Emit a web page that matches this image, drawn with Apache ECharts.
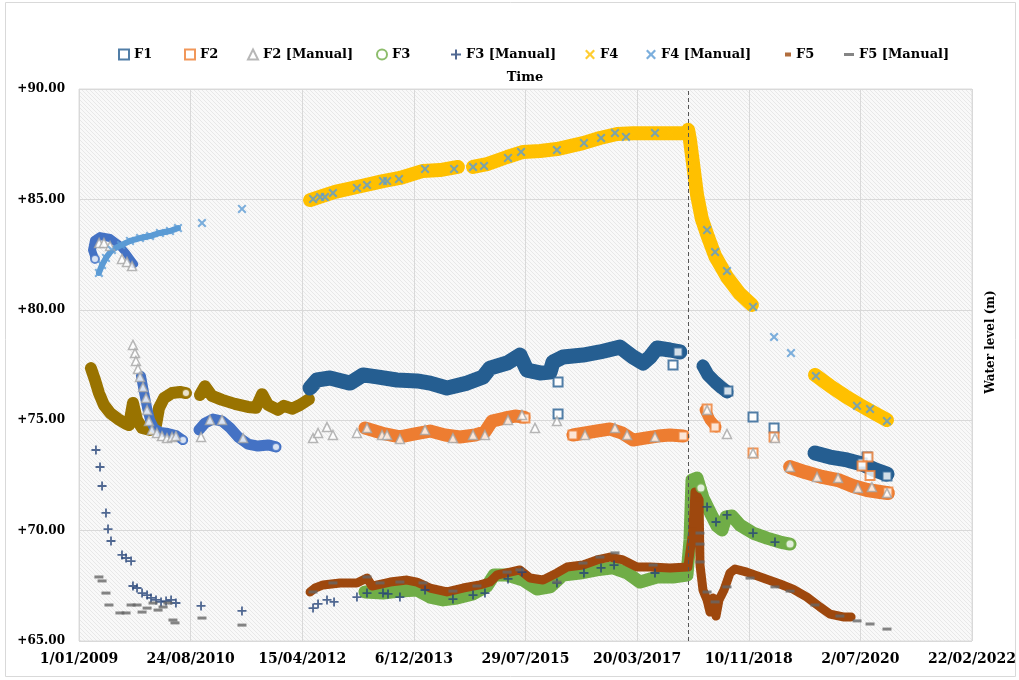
<!DOCTYPE html>
<html><head><meta charset="utf-8">
<script src="https://cdn.jsdelivr.net/npm/echarts@6.0.0/dist/echarts.min.js"></script>
<style>html,body{margin:0;padding:0;background:#fff}#c{width:1019px;height:680px}</style>
</head><body><div id="c"></div><script>
// x values: days since 1 Jan 2009 (Excel-style day offsets); y values: water level (m)
const EVENT_DAY = 3274;
const yTicks = [65, 70, 75, 80, 85, 90];

// Unlabelled logger records (not in legend)
const oliveSeg1 = [[64,77.36],[86,76.82],[107,76.23],[134,75.69],[167,75.33],[210,75.05],[253,74.83],[269,74.78],[290,75.78],[312,75.01],[339,74.65],[382,74.56],[414,74.78],[430,75.55],[457,76.0],[500,76.23],[543,76.28],[575,76.23]];
const oliveSeg2 = [[650,76.14],[677,76.54],[715,76.1],[769,75.92],[838,75.74],[908,75.6],[951,75.56],[984,76.18],[1016,75.69],[1070,75.47],[1102,75.65],[1145,75.52],[1188,75.69],[1236,75.95]];
const oliveEnds = [[575,76.23]];
const blueTop = [[86,82.3],[70,82.71],[81,83.16],[113,83.34],[167,83.25],[210,82.98],[253,82.57],[296,82.07]];
const blueSeg1 = [[333,77.0],[349,76.28],[366,75.55],[382,75.01],[403,74.65],[435,74.47],[478,74.42],[521,74.33],[559,74.1]];
const blueSeg2 = [[645,74.56],[677,74.87],[720,75.05],[769,74.96],[812,74.65],[855,74.24],[908,73.92],[962,73.83],[1016,73.88],[1059,73.79]];
const blueEnds = [[86,82.3],[559,74.1],[1059,73.79]];

// F1
const f1Seg1 = [[1242,76.46],[1279,76.82],[1349,76.91],[1457,76.68],[1527,77.05],[1602,76.96],[1709,76.82],[1817,76.78],[1887,76.68],[1978,76.46],[2086,76.68],[2172,76.96],[2209,77.36],[2301,77.59],[2370,77.95],[2408,77.27],[2478,77.14],[2532,77.18],[2548,77.64],[2602,77.86],[2709,77.95],[2800,78.09],[2908,78.31],[2978,77.86],[3032,77.59],[3069,77.86],[3107,78.27],[3177,78.18],[3230,78.09]];
const f1Seg2 = [[3354,77.46],[3381,77.05],[3419,76.73],[3456,76.46],[3483,76.28]];
const f1Seg3 = [[3956,73.51],[4037,73.33],[4128,73.2],[4209,73.02],[4279,72.75],[4343,72.56]];
const f1Squares = [[2575,76.73],[2575,75.28],[3220,78.09],[3193,77.5],[3488,76.32],[3623,75.14],[3736,74.65],[4236,73.33],[4209,73.06],[4343,72.47]];

// F2
const f2Seg1 = [[1537,74.65],[1591,74.51],[1645,74.38],[1725,74.24],[1806,74.38],[1887,74.51],[1967,74.33],[2048,74.24],[2129,74.33],[2182,74.47],[2220,74.96],[2291,75.1],[2344,75.19],[2392,75.14]];
const f2Seg2 = [[2655,74.33],[2720,74.42],[2784,74.51],[2854,74.6],[2919,74.42],[2978,74.1],[3042,74.19],[3112,74.28],[3177,74.33],[3247,74.28]];
const f2Seg3 = [[3365,75.46],[3392,75.01],[3424,74.69]];
const f2Seg4 = [[3822,72.88],[3902,72.65],[3994,72.43],[4080,72.29],[4160,72.02],[4236,71.84],[4306,71.75],[4348,71.7]];
const f2Squares = [[2397,75.1],[2655,74.33],[3247,74.28],[3376,75.51],[3419,74.69],[3623,73.51],[3736,74.24],[4241,73.33],[4209,72.93],[4252,72.5],[4348,71.75]];
const f2Manual = [[108,83.03],[134,83.03],[167,82.89],[231,82.3],[258,82.17],[285,81.98],[290,78.41],[301,78.04],[306,77.68],[317,77.32],[328,76.96],[344,76.5],[360,76.0],[366,75.46],[376,74.96],[392,74.56],[419,74.42],[446,74.28],[473,74.19],[500,74.24],[521,74.28],[656,74.24],[704,75.01],[769,75.01],[882,74.19],[1258,74.19],[1285,74.42],[1333,74.69],[1365,74.33],[1494,74.42],[1548,74.65],[1629,74.33],[1656,74.33],[1725,74.15],[1860,74.56],[2010,74.19],[2118,74.33],[2182,74.33],[2306,75.01],[2381,75.24],[2451,74.65],[2569,74.96],[2720,74.33],[2881,74.65],[2946,74.33],[3096,74.24],[3376,75.46],[3483,74.38],[3623,73.51],[3741,74.19],[3822,72.88],[3967,72.43],[4080,72.38],[4187,71.93],[4262,71.97],[4343,71.7]];

// F3
const f3Seg1 = [[1537,67.22],[1634,67.17],[1725,67.26],[1817,67.31],[1887,66.99],[1957,66.86],[2032,66.95],[2118,67.13],[2193,67.49],[2231,67.99],[2301,67.99],[2387,67.76],[2462,67.35],[2532,67.45],[2602,67.99],[2693,68.08],[2784,68.22],[2870,68.31],[2946,68.08],[3016,67.67],[3107,67.9],[3193,67.9],[3268,67.99],[3284,69.57],[3295,72.29],[3322,72.38],[3354,71.48],[3392,70.84],[3429,70.21],[3456,70.03],[3478,70.62],[3510,70.66],[3553,70.25],[3623,69.89],[3698,69.66],[3768,69.48],[3822,69.39]];
const f3Circles = [[3343,71.93],[3822,69.39]];
const f3Manual = [[91,73.65],[113,72.88],[124,72.02],[145,70.8],[156,70.07],[172,69.53],[231,68.9],[253,68.76],[280,68.62],[290,67.49],[312,67.4],[339,67.17],[366,67.08],[387,66.95],[414,66.86],[441,66.77],[468,66.81],[495,66.86],[521,66.72],[656,66.59],[876,66.36],[1258,66.49],[1285,66.68],[1333,66.86],[1371,66.77],[1494,66.99],[1548,67.17],[1634,67.17],[1661,67.13],[1725,66.99],[1860,67.31],[2010,66.9],[2118,67.08],[2182,67.17],[2306,67.81],[2381,68.12],[2569,67.63],[2714,68.08],[2806,68.31],[2876,68.44],[3096,68.08],[3376,71.07],[3424,70.39],[3483,70.71],[3623,69.89],[3741,69.48]];

// F4
const f4Seg1 = [[1242,84.97],[1306,85.15],[1376,85.34],[1494,85.56],[1634,85.83],[1725,85.97],[1849,86.29],[1940,86.33],[2037,86.47]];
const f4Seg2 = [[2118,86.47],[2193,86.6],[2301,86.92],[2387,87.15],[2478,87.19],[2569,87.28],[2709,87.55],[2800,87.78],[2892,87.96],[2978,88.0],[3086,88.0],[3177,88.0],[3263,88.0],[3274,88.15],[3284,87.69],[3300,86.65],[3322,85.2],[3348,84.11],[3381,83.3],[3419,82.44],[3483,81.49],[3553,80.72],[3617,80.22]];
const f4Seg3 = [[3956,77.05],[4037,76.55],[4117,76.1],[4198,75.69],[4273,75.33],[4343,75.01]];
const f4ManualEarly = [[107,81.67],[124,82.03],[145,82.35],[177,82.71],[226,82.93],[274,83.12],[328,83.25],[382,83.34],[435,83.48],[489,83.57],[532,83.7]];
const f4Manual = [[107,81.67],[124,82.03],[145,82.35],[177,82.71],[226,82.93],[274,83.12],[328,83.25],[382,83.34],[435,83.48],[489,83.57],[532,83.7],[661,83.93],[876,84.57],[1258,85.02],[1296,85.11],[1322,85.11],[1365,85.29],[1494,85.52],[1548,85.65],[1634,85.83],[1656,85.83],[1720,85.92],[1860,86.38],[2016,86.38],[2118,86.47],[2177,86.51],[2306,86.88],[2376,87.15],[2569,87.24],[2714,87.55],[2806,87.78],[2881,88.01],[2940,87.83],[3096,88.01],[3376,83.61],[3419,82.62],[3483,81.76],[3623,80.13],[3736,78.77],[3827,78.04],[3961,77.0],[4182,75.65],[4252,75.51],[4343,74.96]];

// F5
const f5Seg1 = [[1242,67.22],[1269,67.4],[1312,67.54],[1403,67.63],[1494,67.63],[1548,67.85],[1575,67.49],[1672,67.67],[1763,67.76],[1817,67.67],[1887,67.4],[1978,67.22],[2064,67.4],[2155,67.54],[2209,67.67],[2247,67.99],[2317,68.12],[2370,68.22],[2424,67.85],[2494,67.76],[2569,68.08],[2623,68.35],[2709,68.44],[2784,68.67],[2854,68.8],[2924,68.67],[2999,68.35],[3069,68.35],[3177,68.31],[3273,68.35],[3300,70.03],[3311,71.75],[3333,71.39],[3338,68.44],[3354,67.31],[3376,66.86],[3392,66.31],[3408,66.95],[3424,66.13],[3440,66.86],[3467,67.31],[3499,68.08],[3526,68.26],[3590,68.12],[3677,67.85],[3768,67.58],[3838,67.35],[3913,66.99],[3983,66.54],[4037,66.22],[4107,66.09],[4150,66.09]];
const f5Manual = [[107,67.9],[124,67.72],[145,67.17],[161,66.63],[220,66.27],[253,66.27],[280,66.63],[312,66.63],[339,66.31],[366,66.49],[398,66.72],[425,66.4],[452,66.54],[478,66.72],[505,65.95],[516,65.82],[661,66.04],[876,65.72],[1258,67.22],[1365,67.63],[1548,67.9],[1618,67.63],[1725,67.67],[1849,67.63],[2010,67.26],[2139,67.49],[2301,68.12],[2370,68.22],[2569,67.67],[2709,68.53],[2800,68.8],[2881,68.99],[3086,68.44],[3338,69.89],[3338,69.39],[3338,68.58],[3376,67.22],[3419,66.77],[3483,67.45],[3607,67.85],[3741,67.45],[3822,67.26],[3956,66.63],[4090,66.13],[4182,65.91],[4252,65.77],[4343,65.54]];

const legendNames = ['F1','F2','F2 [Manual]','F3','F3 [Manual]','F4','F4 [Manual]','F5','F5 [Manual]'];
const legendLeft = [118,184,247,376,451,585,646,785,844];

const C = {f1:'#255E91', f2:'#ED7D31', f2m:'#A5A5A5', f3:'#70AD47', f3m:'#264478', f4:'#FFC000', f4m:'#5B9BD5', f5:'#9E480E', f5m:'#666666', olive:'#997300', blue:'#4472C4'};
const SYM_PLUS = 'path://M4,0H6V4H10V6H6V10H4V6H0V4H4Z';
const SYM_X = 'path://M1.6,0L5,3.4L8.4,0L10,1.6L6.6,5L10,8.4L8.4,10L5,6.6L1.6,10L0,8.4L3.4,5L0,1.6Z';
const FONT = 'DejaVu Serif';

const DAY0 = Date.UTC(2009, 0, 1);
function fmtDay(v) {
  const d = new Date(DAY0 + Math.round(v) * 86400000);
  return d.getUTCDate() + '/' + String(d.getUTCMonth() + 1).padStart(2, '0') + '/' + d.getUTCFullYear();
}

// hatched plot background
const pat = document.createElement('canvas');
pat.width = 4; pat.height = 4;
const pctx = pat.getContext('2d');
pctx.fillStyle = '#f9f9f9'; pctx.fillRect(0, 0, 4, 4);
pctx.fillStyle = '#e8e8e8';
for (let i = 0; i < 4; i++) pctx.fillRect(i, i, 1, 1);

function band(name, data, color, width, extra) {
  return Object.assign({
    type: 'line', name, data, showSymbol: false, symbol: 'none', silent: true, z: 2,
    lineStyle: {color, width, cap: 'round', join: 'round'}, itemStyle: {color}
  }, extra || {});
}
function marks(name, data, symbol, size, itemStyle, z) {
  return {type: 'scatter', name, data, symbol, symbolSize: size, itemStyle, z: z || 4, silent: true};
}

const series = [
  // marker series first (they define legend icons)
  marks('F1', f1Squares, 'rect', 9, {color: '#fff', borderColor: C.f1, borderWidth: 2}),
  marks('F2', f2Squares, 'rect', 9, {color: '#fff', borderColor: C.f2, borderWidth: 2}),
  marks('F2 [Manual]', f2Manual, 'triangle', 9, {color: '#fff', borderColor: C.f2m, borderWidth: 1.5}, 5),
  marks('F3', f3Circles, 'circle', 9, {color: '#fff', borderColor: C.f3, borderWidth: 2}),
  marks('F3 [Manual]', f3Manual, SYM_PLUS, 9, {color: C.f3m}, 5),
  marks('F4', f4Seg2, SYM_X, 9, {color: C.f4}, 3),
  marks('F4 [Manual]', f4Manual, SYM_X, 9, {color: C.f4m}, 5),
  marks('F5', f5Seg1, 'rect', [8, 4], {color: C.f5}, 3),
  marks('F5 [Manual]', f5Manual, 'rect', [9, 3], {color: C.f5m}, 5),
  marks('Logger A', oliveEnds, 'circle', 8, {color: '#fff', borderColor: C.olive, borderWidth: 2}),
  marks('Logger B', blueEnds, 'circle', 8, {color: '#fff', borderColor: C.blue, borderWidth: 2}),
  // logger bands
  band('Logger A', oliveSeg1, C.olive, 12),
  band('Logger A', oliveSeg2, C.olive, 12),
  band('Logger B', blueTop, C.blue, 8),
  band('Logger B', blueSeg1, C.blue, 10),
  band('Logger B', blueSeg2, C.blue, 11),
  band('F4 [Manual]', f4ManualEarly, C.f4m, 6),
  band('F1', f1Seg1, C.f1, 15),
  band('F1', f1Seg2, C.f1, 13),
  band('F1', f1Seg3, C.f1, 15),
  band('F2', f2Seg1, C.f2, 13),
  band('F2', f2Seg2, C.f2, 13),
  band('F2', f2Seg3, C.f2, 11),
  band('F2', f2Seg4, C.f2, 14),
  band('F3', f3Seg1, C.f3, 13),
  band('F5', f5Seg1, C.f5, 9),
  band('F4', f4Seg1, C.f4, 14),
  band('F4', f4Seg2, C.f4, 14, {
    markLine: {silent: true, symbol: 'none', animation: false, label: {show: false},
      lineStyle: {color: '#555', width: 1, type: [4, 3]}, data: [{xAxis: EVENT_DAY}]}
  }),
  band('F4', f4Seg3, C.f4, 14)
];

const textStyle = {fontFamily: FONT, fontWeight: 'bold', fontSize: 13, color: '#000'};
const legends = legendNames.map((n, i) => ({
  data: [n], left: legendLeft[i], top: 48, padding: 0, itemGap: 0,
  itemWidth: n === 'F5 [Manual]' ? 10 : (n === 'F5' ? 6 : 10),
  itemHeight: n === 'F5 [Manual]' ? 3 : (n === 'F5' ? 4 : 10),
  textStyle, selectedMode: false
}));

const chart = echarts.init(document.getElementById('c'), null, {renderer: 'canvas'});
chart.setOption({
  animation: false,
  backgroundColor: '#fff',
  legend: legends,
  grid: {left: 79, right: 47, top: 89, bottom: 39, containLabel: false, outerBoundsMode: 'none',
    show: true, backgroundColor: {image: pat, repeat: 'repeat'}, borderColor: '#dcdcdc', borderWidth: 1},
  xAxis: {
    type: 'value', min: 0, max: 4800, interval: 600,
    axisLine: {show: false}, axisTick: {show: false},
    splitLine: {show: true, lineStyle: {color: '#d9d9d9', width: 1}},
    axisLabel: {formatter: fmtDay, margin: 11, interval: 0, showMinLabel: true, showMaxLabel: true,
      fontFamily: FONT, fontWeight: 'bold', fontSize: 14, color: '#000'}
  },
  yAxis: {
    type: 'value', min: yTicks[0], max: yTicks[yTicks.length - 1], interval: 5,
    axisLine: {show: false}, axisTick: {show: false},
    splitLine: {show: true, lineStyle: {color: '#d9d9d9', width: 1}},
    axisLabel: {formatter: v => '+' + v.toFixed(2), margin: 14,
      fontFamily: FONT, fontWeight: 'bold', fontSize: 12, color: '#000'}
  },
  graphic: [
    {type: 'rect', z: -10, shape: {x: 5.5, y: 2.5, width: 1010, height: 674}, style: {fill: 'none', stroke: '#d9d9d9', lineWidth: 1}},
    {type: 'text', x: 525, y: 78, style: {text: 'Time', align: 'center', verticalAlign: 'middle', font: 'bold 13px "DejaVu Serif"', fill: '#000'}},
    {type: 'text', x: 991, y: 342, rotation: Math.PI / 2, style: {text: 'Water level (m)', align: 'center', verticalAlign: 'middle', font: 'bold 12px "DejaVu Serif"', fill: '#000'}}
  ],
  series
});
</script></body></html>
